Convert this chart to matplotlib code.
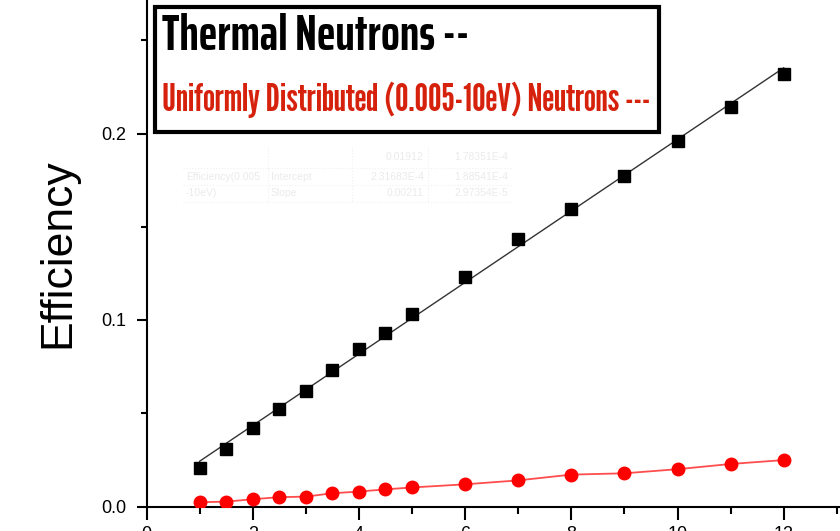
import numpy as np
import matplotlib
matplotlib.use("Agg")
import matplotlib.pyplot as plt
from matplotlib.patches import Rectangle

# energy-scan points (x) and detector efficiencies
x = [1, 1.5, 2, 2.5, 3, 3.5, 4, 4.5, 5, 6, 7, 8, 9, 10, 11, 12]
eff_thermal = [0.0208, 0.0307, 0.0423, 0.0523, 0.0621, 0.0731, 0.0843, 0.0932,
               0.1032, 0.1231, 0.1433, 0.1595, 0.1772, 0.1961, 0.2141, 0.2319]
eff_uniform = [0.0023, 0.0026, 0.0039, 0.0050, 0.0053, 0.0071, 0.0080, 0.0092,
               0.0102, 0.0119, 0.0140, 0.0171, 0.0178, 0.0200, 0.0228, 0.0249]

# faint leftover fit table (as seen behind the plot)
tbl_rows = [["", "", "0.01912", "1.78351E-4"],
            ["Efficiency(0.005", "Intercept", "2.31683E-4", "1.88541E-4"],
            ["-10eV)", "Slope", "0.00211", "2.97354E-5"]]

plt.rcParams['font.family'] = ['Liberation Sans', 'DejaVu Sans']

fig = plt.figure(figsize=(8.4, 5.31), dpi=100)
W, H = 840, 531
# axes deliberately run past the right and top edges (cropped original)
ax = fig.add_axes([146.5 / W, 24.5 / H, 14 * 53.1 / W, 0.3 * 1865 / H])
ax.set_xlim(0, 14)
ax.set_ylim(0, 0.3)

# linear fit for the thermal set
k, b = np.polyfit(x, eff_thermal, 1)
xf = np.array([x[0], x[-1]])
ax.plot(xf, k * xf + b, color='#333333', lw=1.0, zorder=2)
ax.plot(x, eff_thermal, ls='none', marker='s', ms=8, color='black', zorder=3)
ax.plot(x, eff_uniform, color='#ff4d4d', lw=1.3, marker='o', ms=9,
        mfc='red', mec='red', zorder=3)

ax.set_xticks(range(0, 15, 2))
ax.set_xticks(range(1, 15, 2), minor=True)
ax.set_yticks([0.0, 0.1, 0.2])
ax.set_yticks([0.05, 0.15, 0.25], minor=True)
ax.set_yticklabels(['0.0', '0.1', '0.2'])
ax.tick_params(axis='both', which='both', direction='out', width=1.5, labelsize=13)
ax.tick_params(axis='x', which='major', length=9, pad=5)
ax.tick_params(axis='x', which='minor', length=5)
ax.tick_params(axis='y', which='major', length=7.5, pad=7)
ax.tick_params(axis='y', which='minor', length=4)
for s in ax.spines.values():
    s.set_linewidth(1.5)

fig.text(58 / W, 1 - 253 / H, 'Efficiency', rotation=90, fontsize=32,
         ha='center', va='center')

# ghost table
tx = [183, 268, 352, 428, 512]
ty = [147, 168, 185, 202]
for r, row in enumerate(tbl_rows):
    for c, txt in enumerate(row):
        if txt:
            ha = 'left' if c < 2 else 'right'
            xx = tx[c] + 3 if c < 2 else tx[c + 1] - 4
            fig.text(xx / W, 1 - (ty[r] + ty[r + 1]) / 2 / H, txt, fontsize=7.5,
                     color='#ebebeb', ha=ha, va='center')
for yy in ty[1:]:
    fig.add_artist(plt.Line2D([tx[0] / W, tx[-1] / W], [1 - yy / H] * 2,
                              color='#f0f0f0', lw=0.8, ls=':'))
for xx in tx[1:-1]:
    fig.add_artist(plt.Line2D([xx / W] * 2, [1 - ty[0] / H, 1 - ty[-1] / H],
                              color='#f0f0f0', lw=0.8, ls=':'))

# legend box
fig.add_artist(Rectangle((155 / W, 1 - 132 / H), 504 / W, 125 / H,
                         transform=fig.transFigure, fill=True, fc='white',
                         ec='black', lw=3, zorder=5))
t1 = fig.text(162 / W, 1 - 36 / H, 'Thermal Neutrons --', fontsize=36,
              weight='bold', family=['Saira ExtraCondensed', 'DejaVu Sans'],
              color='black', va='center', zorder=6)
t2 = fig.text(162 / W, 1 - 100 / H, 'Uniformly Distributed (0.005-10eV) Neutrons ---',
              fontsize=36,
              family=['League Gothic', 'Saira ExtraCondensed', 'DejaVu Sans'],
              color='#d6220c', va='center', zorder=6)

# squeeze the legend lines to the widths they have in the original box
r = fig.canvas.get_renderer()
for t, target in ((t1, 308), (t2, 488)):
    w = t.get_window_extent(r).width
    t.set_fontsize(t.get_fontsize() * target / w)

fig.savefig('out.png', dpi=100)
